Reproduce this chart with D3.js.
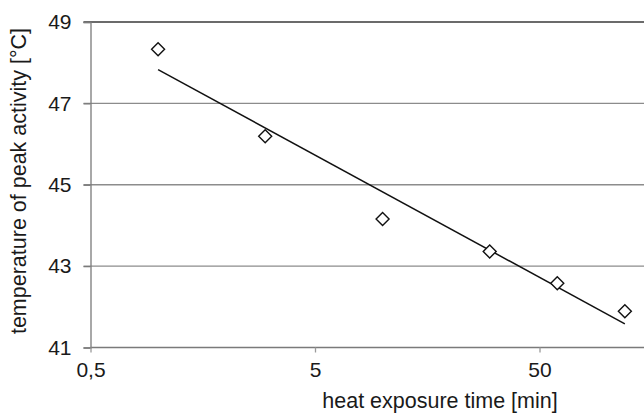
<!DOCTYPE html>
<html>
<head>
<meta charset="utf-8">
<script src="https://cdn.jsdelivr.net/npm/d3@7"></script>
<style>
  body { margin: 0; background: #fff; }
  svg text { font-family: "Liberation Sans", Arial, sans-serif; fill: #1a1a1a; }
</style>
</head>
<body>
<div id="chart"></div>
<script>
// heat exposure time [min] vs temperature of peak activity [°C]
var times = [1, 3, 10, 30, 60, 120];
var temps = [48.33, 46.19, 44.16, 43.36, 42.58, 41.89];
var xTicks = [0.5, 5, 50];
var xTickLabels = ["0,5", "5", "50"];
var yTicks = [41, 43, 45, 47, 49];

var width = 644, height = 416;
var plotLeft = 90.5, plotTop = 22, plotBottom = 347.5;

var svg = d3.select("#chart").append("svg")
    .attr("width", width)
    .attr("height", height);

var x = d3.scaleLog().domain([0.5, 500]).range([plotLeft, plotLeft + 3 * 224.5]);
var y = d3.scaleLinear().domain([41, 49]).range([plotBottom, plotTop]);

// gridlines
svg.append("g").selectAll("line")
    .data(yTicks.filter(function(d) { return d > 41; }))
    .enter().append("line")
    .attr("x1", plotLeft - 7)
    .attr("x2", width)
    .attr("y1", function(d) { return y(d); })
    .attr("y2", function(d) { return y(d); })
    .attr("stroke", function(d) { return d === 49 ? "#3a3a3a" : "#8c8c8c"; })
    .attr("stroke-width", function(d) { return d === 49 ? 1.6 : 1.3; });

// y axis
var yAxis = svg.append("g")
    .attr("transform", "translate(" + plotLeft + ",0)")
    .call(d3.axisLeft(y).tickValues(yTicks).tickSize(7).tickPadding(12).tickFormat(d3.format("d")));
yAxis.select(".domain").attr("stroke", "#7a7a7a").attr("stroke-width", 1.3);
yAxis.selectAll(".tick line").attr("stroke", "#7a7a7a").attr("stroke-width", 1.3);
yAxis.selectAll("text").style("font-size", "21px").attr("fill", "#1a1a1a");

// x axis
var xAxis = svg.append("g")
    .attr("transform", "translate(0," + plotBottom + ")")
    .call(d3.axisBottom(x).tickValues(xTicks).tickSize(5).tickPadding(10)
      .tickFormat(function(d, i) { return xTickLabels[i]; }));
xAxis.select(".domain").attr("stroke", "#7a7a7a").attr("stroke-width", 1.3).attr("d", "M" + plotLeft + ",0H" + width);
xAxis.selectAll(".tick line").attr("stroke", "#9a9a9a").attr("stroke-width", 1.3);
xAxis.selectAll("text").style("font-size", "21px").attr("fill", "#1a1a1a");

// logarithmic trendline (least squares on ln x)
var lx = times.map(function(d) { return Math.log(d); });
var mx = d3.mean(lx), my = d3.mean(temps);
var sxy = d3.sum(lx, function(d, i) { return (d - mx) * (temps[i] - my); });
var sxx = d3.sum(lx, function(d) { return (d - mx) * (d - mx); });
var slope = sxy / sxx, icpt = my - slope * mx;
var trendX = [d3.min(times), d3.max(times)];

svg.append("path")
    .datum(trendX)
    .attr("d", d3.line()
      .x(function(d) { return x(d); })
      .y(function(d) { return y(slope * Math.log(d) + icpt); }))
    .attr("fill", "none")
    .attr("stroke", "#111")
    .attr("stroke-width", 1.5);

// diamonds
svg.append("g").selectAll("path")
    .data(times)
    .enter().append("path")
    .attr("transform", function(d, i) { return "translate(" + x(d) + "," + y(temps[i]) + ")"; })
    .attr("d", "M0,-6.5L6.5,0L0,6.5L-6.5,0Z")
    .attr("fill", "#fff")
    .attr("stroke", "#111")
    .attr("stroke-width", 1.4);

// titles
svg.append("text")
    .attr("x", 440)
    .attr("y", 408)
    .attr("text-anchor", "middle")
    .style("font-size", "21.5px")
    .text("heat exposure time [min]");

svg.append("text")
    .attr("transform", "translate(26,181) rotate(-90)")
    .attr("text-anchor", "middle")
    .style("font-size", "21.5px")
    .text("temperature of peak activity [°C]");
</script>
</body>
</html>
